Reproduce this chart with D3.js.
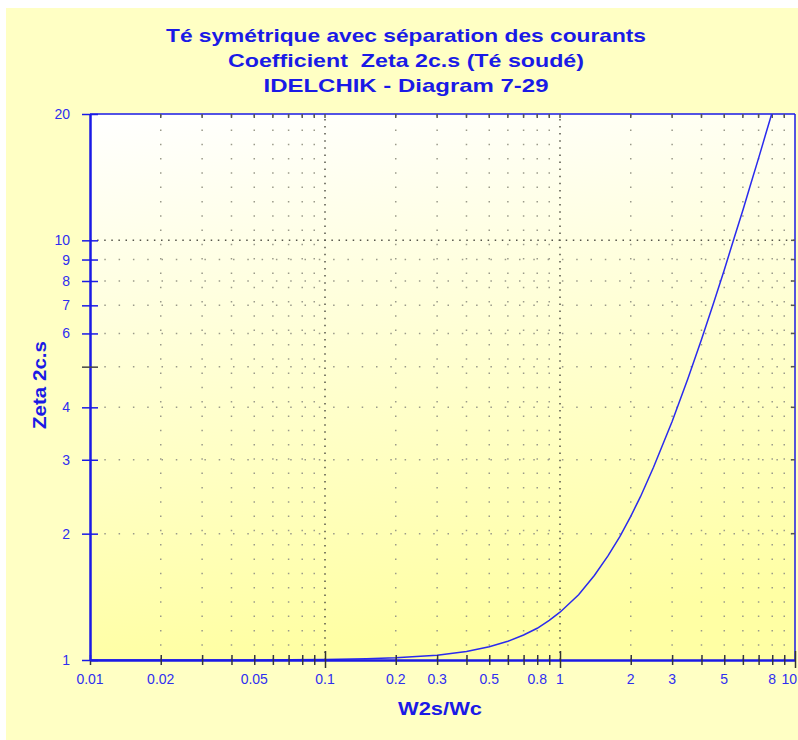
<!DOCTYPE html>
<html>
<head>
<meta charset="utf-8">
<script src="https://cdn.jsdelivr.net/npm/d3@7"></script>
<style>
  body { margin: 0; background: #fff; }
  svg { display: block; font-family: "Liberation Sans", Arial, sans-serif; }
</style>
</head>
<body>
<div id="chart"></div>
<script>
// data
var ratioW = [0.01, 0.05, 0.1, 0.15, 0.2, 0.3, 0.4, 0.5, 0.6, 0.7, 0.8, 0.9, 1, 1.2, 1.4, 1.6, 1.8, 2, 2.2, 2.5, 3, 3.5, 4, 4.5, 5, 5.5, 6, 6.5, 7, 7.5, 8];
var zeta = [1.0, 1.0, 1.003, 1.007, 1.012, 1.027, 1.048, 1.075, 1.108, 1.147, 1.19, 1.243, 1.3, 1.43, 1.59, 1.77, 1.97, 2.2, 2.45, 2.88, 3.7, 4.68, 5.8, 7.08, 8.5, 10.1, 11.8, 13.7, 15.7, 17.9, 20.2];

var titleLines = ["Té symétrique avec séparation des courants", "Coefficient  Zeta 2c.s (Té soudé)", "IDELCHIK - Diagram 7-29"];
var titleWidths = [480, 356, 285];
var xTickLabels = [0.01, 0.02, 0.05, 0.1, 0.2, 0.3, 0.5, 0.8, 1, 2, 3, 5, 8, 10];
var yTickLabels = [1, 2, 3, 4, 6, 7, 8, 9, 10, 20];
var xMinor = [0.02, 0.03, 0.04, 0.05, 0.06, 0.07, 0.08, 0.09, 0.2, 0.3, 0.4, 0.5, 0.6, 0.7, 0.8, 0.9, 2, 3, 4, 5, 6, 7, 8, 9];
var xMajor = [0.1, 1];
var yMinor = [2, 3, 4, 5, 6, 7, 8, 9];
var yMajor = [10];

var svgWidth = 798;
var svgHeight = 740;
var margin = { top: 114, right: 3, bottom: 80, left: 90 };
var chartWidth = svgWidth - margin.left - margin.right;
var chartHeight = svgHeight - margin.top - margin.bottom;

var blue = "#1a1ae6";
var labelBlue = "#2e2ef0";

var svg = d3.select("#chart").append("svg")
    .attr("width", svgWidth)
    .attr("height", svgHeight);

// outer background
svg.append("rect")
    .attr("x", 6).attr("y", 8)
    .attr("width", svgWidth - 6).attr("height", svgHeight - 8)
    .attr("fill", "#ffffc4");

var defs = svg.append("defs");
var grad = defs.append("linearGradient")
    .attr("id", "plotBg")
    .attr("x1", 0).attr("y1", 0).attr("x2", 0.15).attr("y2", 1);
grad.append("stop").attr("offset", "0%").attr("stop-color", "#ffffff");
grad.append("stop").attr("offset", "100%").attr("stop-color", "#ffffa4");

defs.append("clipPath").attr("id", "clip")
    .append("rect").attr("width", chartWidth).attr("height", chartHeight);

var g = svg.append("g")
    .attr("transform", `translate(${margin.left}, ${margin.top})`);

g.append("rect")
    .attr("width", chartWidth)
    .attr("height", chartHeight)
    .attr("fill", "url(#plotBg)");

// scales
var x = d3.scaleLog().domain([0.01, 10]).range([0, chartWidth]);
var y = d3.scaleLog().domain([1, 20]).range([chartHeight, 0]);

// grid
g.append("g").selectAll("line")
    .data(xMinor).enter().append("line")
    .attr("x1", d => x(d)).attr("x2", d => x(d))
    .attr("y1", chartHeight).attr("y2", 0)
    .attr("stroke", "#9a9a8a").attr("stroke-width", 1.5)
    .attr("stroke-dasharray", "1.5,12.8");

g.append("g").selectAll("line")
    .data(yMinor).enter().append("line")
    .attr("y1", d => y(d)).attr("y2", d => y(d))
    .attr("x1", 0).attr("x2", chartWidth)
    .attr("stroke", "#9a9a8a").attr("stroke-width", 1.5)
    .attr("stroke-dasharray", "1.5,12.8");

g.append("g").selectAll("line")
    .data(xMajor).enter().append("line")
    .attr("x1", d => x(d)).attr("x2", d => x(d))
    .attr("y1", chartHeight).attr("y2", 0)
    .attr("stroke", "#55554a").attr("stroke-width", 1.5)
    .attr("stroke-dasharray", "1.5,5.6");

g.append("g").selectAll("line")
    .data(yMajor).enter().append("line")
    .attr("y1", d => y(d)).attr("y2", d => y(d))
    .attr("x1", 0).attr("x2", chartWidth)
    .attr("stroke", "#55554a").attr("stroke-width", 1.5)
    .attr("stroke-dasharray", "1.5,5.6");

// frame
g.append("line").attr("x1", 0).attr("x2", chartWidth).attr("y1", 0).attr("y2", 0)
    .attr("stroke", blue).attr("stroke-width", 1.5);
g.append("line").attr("x1", chartWidth).attr("x2", chartWidth).attr("y1", 0).attr("y2", chartHeight)
    .attr("stroke", blue).attr("stroke-width", 1.5);

// small ticks on top and right borders
g.append("g").selectAll("line")
    .data(xMinor.concat(xMajor)).enter().append("line")
    .attr("x1", d => x(d)).attr("x2", d => x(d))
    .attr("y1", 0).attr("y2", 4)
    .attr("stroke", "#555").attr("stroke-width", 1.5);
g.append("g").selectAll("line")
    .data(yMinor.concat(yMajor)).enter().append("line")
    .attr("y1", d => y(d)).attr("y2", d => y(d))
    .attr("x1", chartWidth - 4).attr("x2", chartWidth)
    .attr("stroke", "#555").attr("stroke-width", 1.5);

// curve
var line = d3.line()
    .x((d, i) => x(ratioW[i]))
    .y(d => y(d));

g.append("path")
    .datum(zeta)
    .attr("clip-path", "url(#clip)")
    .attr("d", line)
    .attr("fill", "none")
    .attr("stroke", "#2a2aee")
    .attr("stroke-width", 1.5);

// bottom axis
var isMajor = d => d === 0.1 || d === 1 || d === 10;
var bottomAxis = d3.axisBottom(x)
    .tickValues(xMinor.concat(xMajor, [0.01, 10]))
    .tickSize(0)
    .tickFormat("");
var xAxisG = g.append("g")
    .attr("transform", `translate(0, ${chartHeight})`)
    .call(bottomAxis);
xAxisG.select(".domain").attr("stroke", blue).attr("stroke-width", 2.5);
xAxisG.selectAll(".tick line")
    .attr("y1", d => isMajor(d) ? -9 : -5)
    .attr("y2", d => isMajor(d) ? 8 : 5)
    .attr("stroke", d => isMajor(d) ? "#333" : "#334")
    .attr("stroke-width", 1.5);

g.append("g").selectAll("text")
    .data(xTickLabels).enter().append("text")
    .attr("x", d => d === 10 ? chartWidth + 2 : x(d))
    .attr("y", chartHeight + 24)
    .attr("text-anchor", d => d === 10 ? "end" : "middle")
    .attr("font-size", 14)
    .attr("fill", labelBlue)
    .text(d => d);

// left axis
var leftAxis = d3.axisLeft(y)
    .tickValues([1, 2, 3, 4, 5, 6, 7, 8, 9, 10, 20])
    .tickSize(0)
    .tickFormat("");
var yAxisG = g.append("g").call(leftAxis);
yAxisG.select(".domain").attr("stroke", blue).attr("stroke-width", 2.5);
yAxisG.selectAll(".tick line")
    .attr("x1", -8).attr("x2", 8)
    .attr("stroke", d => d === 5 ? "#444" : blue)
    .attr("stroke-width", 1.5);

g.append("g").selectAll("text")
    .data(yTickLabels).enter().append("text")
    .attr("x", -20)
    .attr("y", d => y(d) + 5)
    .attr("text-anchor", "end")
    .attr("font-size", 14)
    .attr("fill", labelBlue)
    .text(d => d);

// titles
svg.append("g").selectAll("text")
    .data(titleLines).enter().append("text")
    .attr("x", 406)
    .attr("y", (d, i) => 42 + i * 25)
    .attr("text-anchor", "middle")
    .attr("font-size", 19)
    .attr("font-weight", "bold")
    .attr("fill", blue)
    .attr("textLength", (d, i) => titleWidths[i])
    .attr("lengthAdjust", "spacingAndGlyphs")
    .style("white-space", "pre")
    .text(d => d);

svg.append("text")
    .attr("x", 440)
    .attr("y", 715)
    .attr("text-anchor", "middle")
    .attr("font-size", 18)
    .attr("font-weight", "bold")
    .attr("fill", blue)
    .attr("textLength", 84)
    .attr("lengthAdjust", "spacingAndGlyphs")
    .text("W2s/Wc");

svg.append("text")
    .attr("transform", "translate(46, 385) rotate(-90)")
    .attr("text-anchor", "middle")
    .attr("font-size", 18)
    .attr("font-weight", "bold")
    .attr("fill", blue)
    .attr("textLength", 88)
    .attr("lengthAdjust", "spacingAndGlyphs")
    .text("Zeta 2c.s");
</script>
</body>
</html>
